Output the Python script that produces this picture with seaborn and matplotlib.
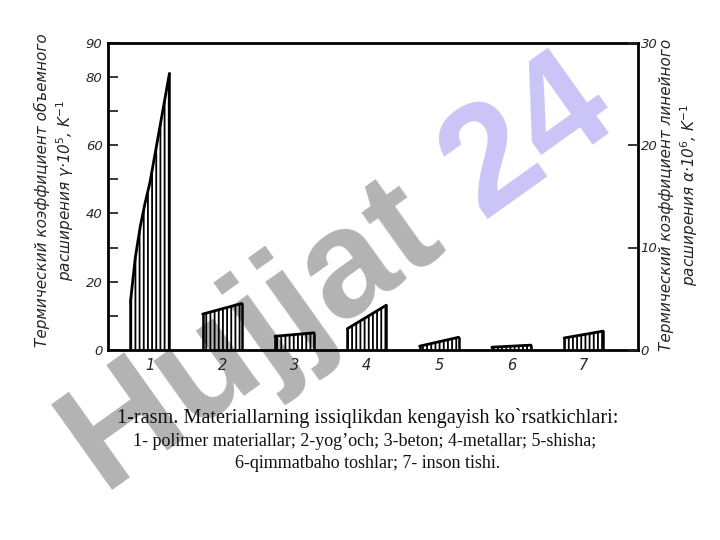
import numpy as np
import pandas as pd
import matplotlib
matplotlib.use("Agg")
import matplotlib.pyplot as plt
import seaborn as sns

# ---- data ----
categories = [1, 2, 3, 4, 5, 6, 7]
tick_labels = ["1", "2", "3", "4", "5", "6", "7"]
# bar profiles: value at left edge ... value at right edge (left axis units, γ·10^5)
bar1 = [14, 27, 36, 43, 49, 57, 65, 73, 81]
bar2 = [10.5, 13.6]
bar3 = [4.0, 5.0]
bar4 = [6.2, 13.1]
bar5 = [1.1, 3.7]
bar6 = [0.8, 1.4]
bar7 = [3.5, 5.5]
profiles = [bar1, bar2, bar3, bar4, bar5, bar6, bar7]

left_ticks = [0, 20, 40, 60, 80, 90]
left_minor = [10, 30, 50, 70]
right_ticks = [0, 10, 20, 30]

left_label = "Термический коэффициент объемного\nрасширения γ·10$^5$, K$^{-1}$"
right_label = "Термический коэффициент линейного\nрасширения α·10$^6$, K$^{-1}$"
caption1 = "1-rasm. Materiallarning issiqlikdan kengayish ko`rsatkichlari:"
caption2 = "1- polimer materiallar; 2-yog’och; 3-beton; 4-metallar; 5-shisha;"
caption3 = "6-qimmatbaho toshlar; 7- inson tishi."
wm_gray = "Hujjat"
wm_purple = "24"

# ---- style ----
sns.set_theme(style="white")
plt.rcParams["font.family"] = ["DejaVu Sans"]
plt.rcParams["hatch.linewidth"] = 1.3
plt.rcParams["hatch.color"] = "black"

fig = plt.figure(figsize=(7.2, 5.4), dpi=100)
ax = fig.add_axes([0.15, 0.352, 0.736, 0.569])
ax.patch.set_alpha(0)

half = 0.27
rows = []
for cat, prof in zip(categories, profiles):
    xs = np.linspace(cat - half, cat + half, len(prof))
    for x, v in zip(xs, prof):
        rows.append({"cat": cat, "x": x, "value": v})
df = pd.DataFrame(rows)

for cat, g in df.groupby("cat"):
    ax.fill_between(g["x"], 0, g["value"], facecolor="none", edgecolor="black",
                    hatch="||||", linewidth=0)
sns.lineplot(data=df, x="x", y="value", units="cat", estimator=None,
             color="black", linewidth=2.0, ax=ax, legend=False)
for cat, g in df.groupby("cat"):
    ax.vlines([g["x"].iloc[0], g["x"].iloc[-1]], 0,
              [g["value"].iloc[0], g["value"].iloc[-1]], color="black", linewidth=1.8)

ax.set_xlim(0.42, 7.75)
ax.set_ylim(0, 90)
ax.set_xticks(categories)
ax.set_xticklabels(tick_labels, fontsize=10.5, style="italic")
ax.set_yticks(left_ticks)
ax.set_yticklabels([str(t) for t in left_ticks], fontsize=9.5, style="italic")
ax.set_yticks(left_minor, minor=True)
ax.tick_params(axis="y", which="both", direction="in", length=7, width=1.3, left=True, pad=4)
ax.tick_params(axis="x", length=0, pad=6)
ax.set_xlabel("")
ax.set_ylabel(left_label, fontsize=11, style="italic", linespacing=1.25)
ax.yaxis.set_label_coords(-0.060, 0.52)
for s in ax.spines.values():
    s.set_visible(True)
    s.set_color("black")
    s.set_linewidth(2.0)

ax2 = ax.twinx()
ax2.set_ylim(0, 30)
ax2.set_yticks(right_ticks)
ax2.set_yticklabels([str(t) for t in right_ticks], fontsize=9.5, style="italic")
ax2.tick_params(axis="y", direction="in", length=7, width=1.3, right=True, pad=2)
ax2.set_ylabel(right_label, fontsize=11, style="italic", linespacing=1.25)
ax2.yaxis.set_label_coords(1.040, 0.505)
for s in ax2.spines.values():
    s.set_visible(False)
ax2.grid(False)
ax.grid(False)

# caption
fig.text(0.511, 1 - 418 / 540, caption1, ha="center", va="center",
         family="Liberation Serif", fontsize=14.6, color="#111111")
fig.text(0.507, 1 - 441 / 540, caption2, ha="center", va="center",
         family="Liberation Serif", fontsize=13.0, color="#111111")
fig.text(0.510, 1 - 463 / 540, caption3, ha="center", va="center",
         family="Liberation Serif", fontsize=13.0, color="#111111")

# watermark
wm_size = 110
wm_rot = 35.5
wm_font = dict(family="Liberation Sans", fontweight="bold", fontsize=wm_size)
renderer = fig.canvas.get_renderer()
t_all = fig.text(0, 0, wm_gray + " " + wm_purple, **wm_font)
t_end = fig.text(0, 0, wm_purple, **wm_font)
w_all = t_all.get_window_extent(renderer).width
w_end = t_end.get_window_extent(renderer).width
t_all.remove()
t_end.remove()
offset = w_all - w_end
sx, sy = 102.0, 490.0  # start in pixels from top-left
ang = np.deg2rad(wm_rot)
ex, ey = sx + offset * np.cos(ang), sy - offset * np.sin(ang)
fig.text(sx / 720, 1 - sy / 540, wm_gray, rotation=wm_rot, rotation_mode="anchor",
         ha="left", va="baseline", color="#b3b3b3", zorder=-1, **wm_font)
fig.text(ex / 720, 1 - ey / 540, wm_purple, rotation=wm_rot, rotation_mode="anchor",
         ha="left", va="baseline", color="#cbc4f6", zorder=-1, **wm_font)

fig.savefig("out.png", dpi=100)
